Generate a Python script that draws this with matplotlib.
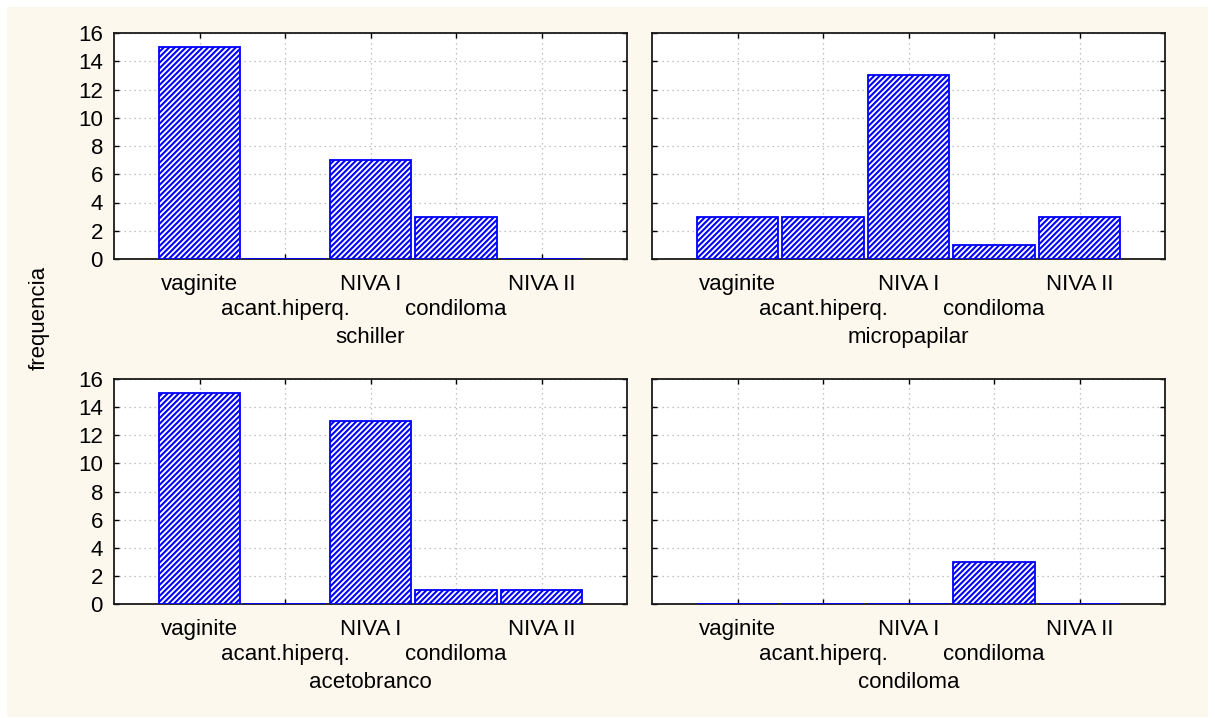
import matplotlib
matplotlib.use("Agg")
import matplotlib.pyplot as plt
from matplotlib.patches import Rectangle

plt.rcParams['font.family'] = ['Liberation Sans', 'DejaVu Sans']
plt.rcParams['hatch.linewidth'] = 1.5
plt.rcParams['hatch.color'] = '#0000ff'

categories = ['vaginite', 'acant.hiperq.', 'NIVA I', 'condiloma', 'NIVA II']
schiller = [15, 0, 7, 3, 0]
micropapilar = [3, 3, 13, 1, 3]
acetobranco = [15, 0, 13, 1, 1]
condiloma = [0, 0, 0, 3, 0]

panels = [('schiller', schiller), ('micropapilar', micropapilar),
          ('acetobranco', acetobranco), ('condiloma', condiloma)]

W, H = 1215, 718
fig = plt.figure(figsize=(W / 100, H / 100), dpi=100, facecolor='white')

# cream panel behind everything
fig.patches.append(Rectangle((7 / W, 1 / H), 1201 / W, 710 / H, transform=fig.transFigure,
                             facecolor='#fdf8ee', edgecolor='none', zorder=-10))

# axes boxes in pixels: left, top, right, bottom
boxes = [(114, 33, 627, 259), (652, 33, 1165, 259),
         (114, 379, 627, 604), (652, 379, 1165, 604)]

positions = list(range(1, len(categories) + 1))
# every second label goes on a second line so the names don't collide
tick_labels = [c if i % 2 == 0 else '\n' + c for i, c in enumerate(categories)]

for (name, vals), (l, t, r, b) in zip(panels, boxes):
    ax = fig.add_axes([l / W, 1 - b / H, (r - l) / W, (b - t) / H])
    ax.set_facecolor('white')
    ax.bar(positions, vals, width=0.95, color='white', edgecolor='#0000ff',
           linewidth=1.3, hatch='//////', zorder=3)
    ax.set_xlim(0, 6)
    ax.set_ylim(0, 16)
    ax.set_yticks(range(0, 17, 2))
    ax.set_xticks(positions)
    ax.set_xticklabels(tick_labels, linespacing=1.25)
    if l > 600:
        ax.set_yticklabels([])
    ax.set_axisbelow(True)
    ax.grid(True, color='#b0b0b0', linestyle=(0, (1, 3)), linewidth=0.9)
    ax.tick_params(direction='in', top=True, right=True, length=3.5, width=1,
                   labelsize=16, pad=8)
    ax.tick_params(axis='x', pad=11)
    for s in ax.spines.values():
        s.set_linewidth(1.3)
        s.set_color('#1a1a1a')
    ax.set_xlabel(name, fontsize=16, labelpad=5)

fig.text(39 / W, 1 - 318 / H, 'frequencia', rotation=90, fontsize=16,
         ha='center', va='center')

fig.savefig('out.png', dpi=100, facecolor='white')
